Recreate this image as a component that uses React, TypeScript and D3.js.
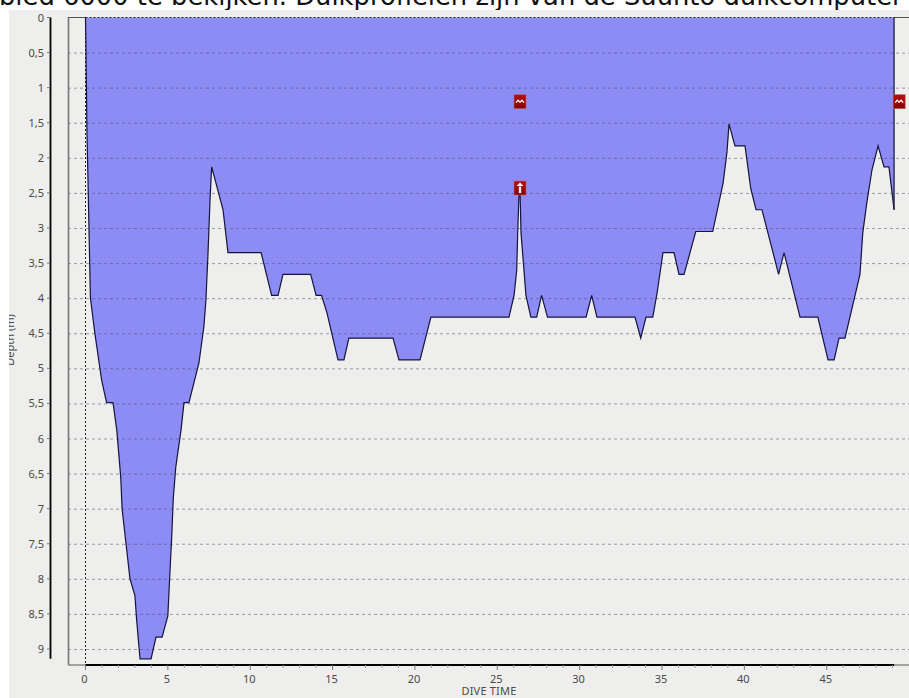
import React from "react";
import * as d3 from "d3";

const heading = "bied 6000 te bekijken. Duikprofielen zijn van de Suunto duikcomputer";
const xTitle = "DIVE TIME";
const yTitle = "Depth (m)";
const timeTicks = [0, 5, 10, 15, 20, 25, 30, 35, 40, 45];
const minorTimeTicks = d3.range(1, 50).filter((d) => d % 5 !== 0);
const depthTicks = d3.range(0, 19).map((d) => d / 2);
const diveTime = [
  0, 0.02, 0.09, 0.15, 0.21, 0.3, 0.46, 0.58, 0.98, 1.28, 1.67, 1.9, 2.14, 2.22, 2.46, 2.7, 3.0, 3.11, 3.31, 3.98,
  4.28, 4.65, 5.0, 5.09, 5.24, 5.33, 5.48, 5.8, 5.98, 6.28, 6.89, 7.19, 7.31, 7.44, 7.56, 7.66, 8.35, 8.65, 10.66,
  11.3, 11.69, 11.99, 13.67, 14.0, 14.33, 14.66, 15.33, 15.69, 15.99, 18.67, 19.03, 20.31, 20.97, 25.71, 26.02,
  26.18, 26.24, 26.32, 26.38, 26.44, 26.62, 26.74, 27.04, 27.39, 27.69, 28.05, 30.39, 30.73, 31.05, 33.36, 33.71,
  34.03, 34.44, 34.7, 35.06, 35.73, 36.03, 36.34, 37.05, 38.08, 38.71, 38.94, 39.07, 39.43, 40.04, 40.39, 40.71,
  41.07, 42.08, 42.41, 43.38, 44.46, 45.08, 45.45, 45.75, 46.11, 47.02, 47.19, 47.43, 47.75, 48.12, 48.48, 48.78,
  49.09,
];
const diveDepth = [
  0, 0.3, 1.65, 2.3, 3.0, 4.0, 4.3, 4.52, 5.17, 5.49, 5.49, 5.88, 6.56, 7.0, 7.5, 8.0, 8.24, 8.6, 9.14, 9.14,
  8.83, 8.83, 8.53, 8.08, 7.37, 6.85, 6.41, 5.88, 5.49, 5.49, 4.92, 4.4, 4.03, 3.35, 2.6, 2.13, 2.74, 3.35, 3.35,
  3.96, 3.96, 3.66, 3.66, 3.96, 3.96, 4.21, 4.88, 4.88, 4.57, 4.57, 4.88, 4.88, 4.27, 4.27, 3.96,
  3.6, 3.07, 2.5, 2.44, 3.07, 3.6, 3.96, 4.27, 4.27, 3.96, 4.27, 4.27, 3.96, 4.27, 4.27, 4.57,
  4.27, 4.27, 3.93, 3.35, 3.35, 3.66, 3.66, 3.05, 3.05, 2.36, 1.93, 1.52, 1.83, 1.83, 2.44, 2.74,
  2.74, 3.66, 3.35, 4.27, 4.27, 4.88, 4.88, 4.57, 4.57, 3.66, 3.07, 2.65, 2.17, 1.83, 2.13, 2.13,
  2.74,
];
const waveMarkers = [
  { time: 26.38, depth: 1.2 },
  { time: 49.4, depth: 1.2 },
];
const ascentMarkers = [{ time: 26.38, depth: 2.43 }];

const x = d3.scaleLinear().domain([0, 45]).range([85.5, 826.7]);
const y = d3.scaleLinear().domain([0, 9]).range([17.5, 649]);
const data = diveTime.map((t, i) => ({ t, d: diveDepth[i] }));
const area = d3
  .area<{ t: number; d: number }>()
  .x((p) => x(p.t))
  .y0(y(0))
  .y1((p) => y(p.d));
const line = d3
  .line<{ t: number; d: number }>()
  .x((p) => x(p.t))
  .y((p) => y(p.d));

const LABEL = "#4a4a4a";
const FONT = "'Noto Sans', Tahoma, sans-serif";
const endX = x(diveTime[diveTime.length - 1]);
const endY = y(diveDepth[diveDepth.length - 1]);

function MarkerBox({ cx, cy, children }: { cx: number; cy: number; children?: React.ReactNode }) {
  return (
    <g transform={`translate(${cx},${cy})`}>
      <rect x={-6} y={-7} width={12} height={14} fill="url(#mk)" stroke="#c86060" strokeWidth={0.6} />
      {children}
    </g>
  );
}

export default function App() {
  return (
    <svg
      width={909}
      height={698}
      style={{ position: "absolute", left: 0, top: 0, display: "block", background: "#fff" }}
    >
      <defs>
        <clipPath id="panel">
          <rect x={9} y={10} width={900} height={688} />
        </clipPath>
        <linearGradient id="mk" x1="0" x2="0" y1="0" y2="1">
          <stop offset="0" stopColor="#b80f0f" />
          <stop offset="1" stopColor="#840404" />
        </linearGradient>
      </defs>
      <text x={-1} y={5} fontFamily="'DejaVu Sans', Verdana, sans-serif" fontSize={25.8} fill="#111">
        {heading}
      </text>
      <rect x={9} y={10} width={900} height={688} fill="#eeeeec" />

      <path d={area(data) ?? ""} fill="#8c8cf4" />

      {depthTicks.slice(1).map((d) => (
        <line
          key={d}
          x1={68}
          x2={909}
          y1={y(d) + 0.5}
          y2={y(d) + 0.5}
          stroke="#4a4a68"
          strokeOpacity={0.5}
          strokeDasharray="3 3"
        />
      ))}

      {/* frame */}
      <line x1={68.5} x2={68.5} y1={17} y2={665} stroke="#777" strokeWidth={1.6} />
      <line x1={68} x2={85} y1={17.5} y2={17.5} stroke="#555" />
      <line x1={894} x2={909} y1={17.5} y2={17.5} stroke="#555" />
      <line x1={68} x2={909} y1={665} y2={665} stroke="#888" strokeWidth={1.6} />
      <line x1={85.5} x2={endX} y1={17.5} y2={17.5} stroke="#222" strokeDasharray="2 2" />
      <line x1={85.5} x2={85.5} y1={17} y2={665} stroke="#222" strokeDasharray="2 2" />

      <path d={line(data) ?? ""} fill="none" stroke="#14143c" strokeWidth={1.2} />
      <line x1={endX} x2={endX} y1={17} y2={endY} stroke="#14142c" strokeWidth={1.2} />

      {/* time axis */}
      <line x1={85.5} x2={endX} y1={665} y2={665} stroke="#000" strokeWidth={2} />
      {minorTimeTicks.map((t) => (
        <line key={t} x1={x(t)} x2={x(t)} y1={665} y2={668} stroke="#999" />
      ))}
      {timeTicks.map((t) => (
        <g key={t}>
          <line x1={x(t)} x2={x(t)} y1={665} y2={670} stroke="#777" />
          <text x={x(t) - 1} y={683} textAnchor="middle" fontFamily={FONT} fontSize={11} fill={LABEL}>
            {t}
          </text>
        </g>
      ))}
      <text x={489} y={695} textAnchor="middle" fontFamily={FONT} fontSize={11} fill={LABEL} letterSpacing={0.2}>
        {xTitle}
      </text>

      {/* depth axis */}
      <line x1={50.5} x2={50.5} y1={y(0)} y2={y(9.14)} stroke="#000" strokeWidth={1.8} />
      {depthTicks.map((d) => (
        <g key={d}>
          <line x1={47} x2={50} y1={y(d)} y2={y(d)} stroke="#777" />
          <text x={44} y={y(d) + 4} textAnchor="end" fontFamily={FONT} fontSize={11} fill={LABEL}>
            {String(d).replace(".", ",")}
          </text>
        </g>
      ))}
      <g clipPath="url(#panel)">
        <text
          transform="translate(14,340) rotate(-90)"
          textAnchor="middle"
          fontFamily={FONT}
          fontSize={11}
          fill={LABEL}
        >
          {yTitle}
        </text>
      </g>

      {/* event markers */}
      {waveMarkers.map((m, i) => (
        <MarkerBox key={i} cx={x(m.time)} cy={y(m.depth)}>
          <path d="M-4,1 L-2,-1.5 L0,0.5 L2,-1.5 L4,1" fill="none" stroke="#fff" strokeWidth={1.3} />
        </MarkerBox>
      ))}
      {ascentMarkers.map((m, i) => (
        <MarkerBox key={i} cx={x(m.time)} cy={y(m.depth)}>
          <path d="M-3.5,-2 L0,-5.5 L3.5,-2 Z" fill="#fff" />
          <rect x={-1.2} y={-1.5} width={2.4} height={6.5} fill="#eee" />
        </MarkerBox>
      ))}
    </svg>
  );
}
